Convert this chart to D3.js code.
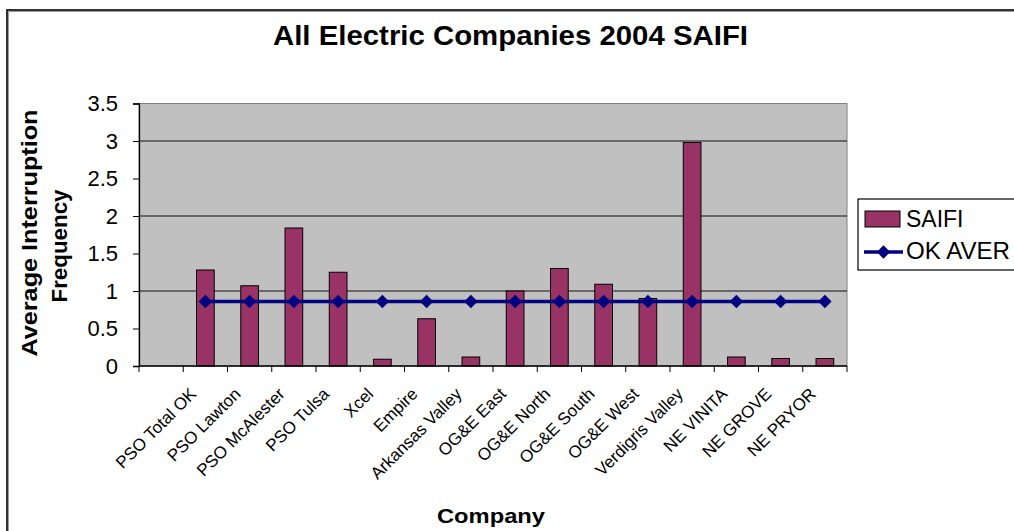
<!DOCTYPE html>
<html>
<head>
<meta charset="utf-8">
<script src="https://cdn.jsdelivr.net/npm/d3@7"></script>
<style>
  html, body { margin: 0; padding: 0; background: #fff; overflow: hidden; }
  svg { display: block; font-family: "Liberation Sans", Arial, sans-serif; }
</style>
</head>
<body>
<svg id="chart" width="1014" height="531"></svg>
<script>
// ---- data ----
const categories = ["PSO Total OK", "PSO Lawton", "PSO McAlester", "PSO Tulsa", "Xcel", "Empire",
  "Arkansas Valley", "OG&E East", "OG&E North", "OG&E South", "OG&E West", "Verdigris Valley",
  "NE VINITA", "NE GROVE", "NE PRYOR"];
const saifi = [1.28, 1.07, 1.84, 1.25, 0.09, 0.63, 0.12, 1.0, 1.3, 1.09, 0.9, 2.98, 0.12, 0.1, 0.1];
const okAverage = [0.86, 0.86, 0.86, 0.86, 0.86, 0.86, 0.86, 0.86, 0.86, 0.86, 0.86, 0.86, 0.86, 0.86, 0.86];
const yTicks = [0, 0.5, 1, 1.5, 2, 2.5, 3, 3.5];
const gridValues = [1, 2, 3];
const seriesNames = ["SAIFI", "OK AVER"];
const titleText = "All Electric Companies 2004 SAIFI";
const xTitle = "Company";
const yTitleLines = ["Average Interruption", "Frequency"];

// ---- layout ----
const svg = d3.select("#chart");
const plot = { left: 139, right: 847, top: 103.5, bottom: 366 };
const barColor = "#993366";
const lineColor = "#000080";

// outer chart border
svg.append("rect").attr("x", 7).attr("y", 10).attr("width", 1100).attr("height", 600)
  .attr("fill", "#fff").attr("stroke", "#000").attr("stroke-width", 1.6);
svg.append("path").attr("d", "M8.5,1000 V11.5 H1100").attr("fill", "none")
  .attr("stroke", "#9a9a9a").attr("stroke-width", 1);

// scales
const x = d3.scaleBand().domain(["", ...categories]).range([plot.left, plot.right])
  .paddingInner(0).paddingOuter(0);
const y = d3.scaleLinear().domain([0, 3.5]).range([plot.bottom, plot.top]);

// plot area
svg.append("rect").attr("x", plot.left).attr("y", plot.top)
  .attr("width", plot.right - plot.left).attr("height", plot.bottom - plot.top)
  .attr("fill", "#C0C0C0").attr("stroke", "#808080").attr("stroke-width", 1);

// gridlines
svg.append("g").selectAll("line").data(gridValues).join("line")
  .attr("x1", plot.left).attr("x2", plot.right)
  .attr("y1", d => y(d)).attr("y2", d => y(d))
  .attr("stroke", "#111").attr("stroke-width", 1);

// bars
const bw = x.bandwidth() * 0.4;
svg.append("g").selectAll("rect").data(categories).join("rect")
  .attr("x", (d) => x(d) + x.bandwidth() / 2 - bw / 2)
  .attr("y", (d, i) => y(saifi[i]))
  .attr("width", bw)
  .attr("height", (d, i) => y(0) - y(saifi[i]))
  .attr("fill", barColor).attr("stroke", "#000").attr("stroke-width", 1);

// y axis
const yAxis = d3.axisLeft(y).tickValues(yTicks).tickSize(6).tickPadding(15)
  .tickFormat(d => String(d));
const gy = svg.append("g").attr("transform", `translate(${plot.left},0)`).call(yAxis);
gy.select(".domain").attr("stroke", "#000").attr("stroke-width", 1.3);
gy.selectAll(".tick line").attr("stroke", "#000");
gy.selectAll(".tick text").attr("font-size", 22).attr("fill", "#000")
  .attr("font-family", "Liberation Sans, Arial, sans-serif");

// x axis (ticks at category boundaries)
const boundaries = d3.range(x.domain().length + 1).map(i => plot.left + i * x.step());
svg.append("line").attr("x1", plot.left).attr("x2", plot.right)
  .attr("y1", plot.bottom).attr("y2", plot.bottom).attr("stroke", "#000").attr("stroke-width", 1.3);
svg.append("g").selectAll("line").data(boundaries).join("line")
  .attr("x1", d => d).attr("x2", d => d)
  .attr("y1", plot.bottom).attr("y2", plot.bottom + 6)
  .attr("stroke", "#000").attr("stroke-width", 1);

// x labels
svg.append("g").selectAll("text").data(categories).join("text")
  .attr("transform", d => `translate(${x(d) + x.bandwidth() / 2 - 8},${plot.bottom + 29}) rotate(-45)`)
  .attr("text-anchor", "end")
  .attr("font-size", 17).attr("fill", "#000")
  .text(d => d);

// line series
const line = d3.line().x((d, i) => x(categories[i]) + x.bandwidth() / 2).y(d => y(d));
svg.append("path").datum(okAverage).attr("d", line)
  .attr("fill", "none").attr("stroke", lineColor).attr("stroke-width", 3.3);
const diamond = d3.symbol().type(d3.symbolDiamond2).size(115);
svg.append("g").selectAll("path").data(okAverage).join("path")
  .attr("transform", (d, i) => `translate(${x(categories[i]) + x.bandwidth() / 2},${y(d)})`)
  .attr("d", diamond).attr("fill", lineColor);

// title
svg.append("text").attr("x", 510.5).attr("y", 45).attr("text-anchor", "middle")
  .attr("font-size", 27).attr("font-weight", "bold")
  .attr("textLength", 475).attr("lengthAdjust", "spacingAndGlyphs")
  .text(titleText);

// x title
svg.append("text").attr("x", 491).attr("y", 523).attr("text-anchor", "middle")
  .attr("font-size", 21).attr("font-weight", "bold")
  .attr("textLength", 108).attr("lengthAdjust", "spacingAndGlyphs")
  .text(xTitle);

// y title
svg.append("text").attr("transform", "translate(37,233) rotate(-90)").attr("text-anchor", "middle")
  .attr("font-size", 21.5).attr("font-weight", "bold")
  .attr("textLength", 247).attr("lengthAdjust", "spacingAndGlyphs")
  .text(yTitleLines[0]);
svg.append("text").attr("transform", "translate(67,246) rotate(-90)").attr("text-anchor", "middle")
  .attr("font-size", 21.5).attr("font-weight", "bold")
  .attr("textLength", 113).attr("lengthAdjust", "spacingAndGlyphs")
  .text(yTitleLines[1]);

// legend
const lg = svg.append("g");
lg.append("rect").attr("x", 858).attr("y", 199).attr("width", 200).attr("height", 71)
  .attr("fill", "#fff").attr("stroke", "#000").attr("stroke-width", 1.2);
lg.append("rect").attr("x", 865).attr("y", 211).attr("width", 35).attr("height", 16)
  .attr("fill", barColor).attr("stroke", "#000").attr("stroke-width", 1);
lg.append("text").attr("x", 906).attr("y", 227).attr("font-size", 23).text(seriesNames[0]);
lg.append("line").attr("x1", 864).attr("x2", 903).attr("y1", 252).attr("y2", 252)
  .attr("stroke", lineColor).attr("stroke-width", 3.3);
lg.append("path").attr("transform", "translate(883.5,252)").attr("d", diamond).attr("fill", lineColor);
lg.append("text").attr("x", 906).attr("y", 259).attr("font-size", 23)
  .attr("textLength", 104).attr("lengthAdjust", "spacingAndGlyphs").text(seriesNames[1]);
</script>
</body>
</html>
